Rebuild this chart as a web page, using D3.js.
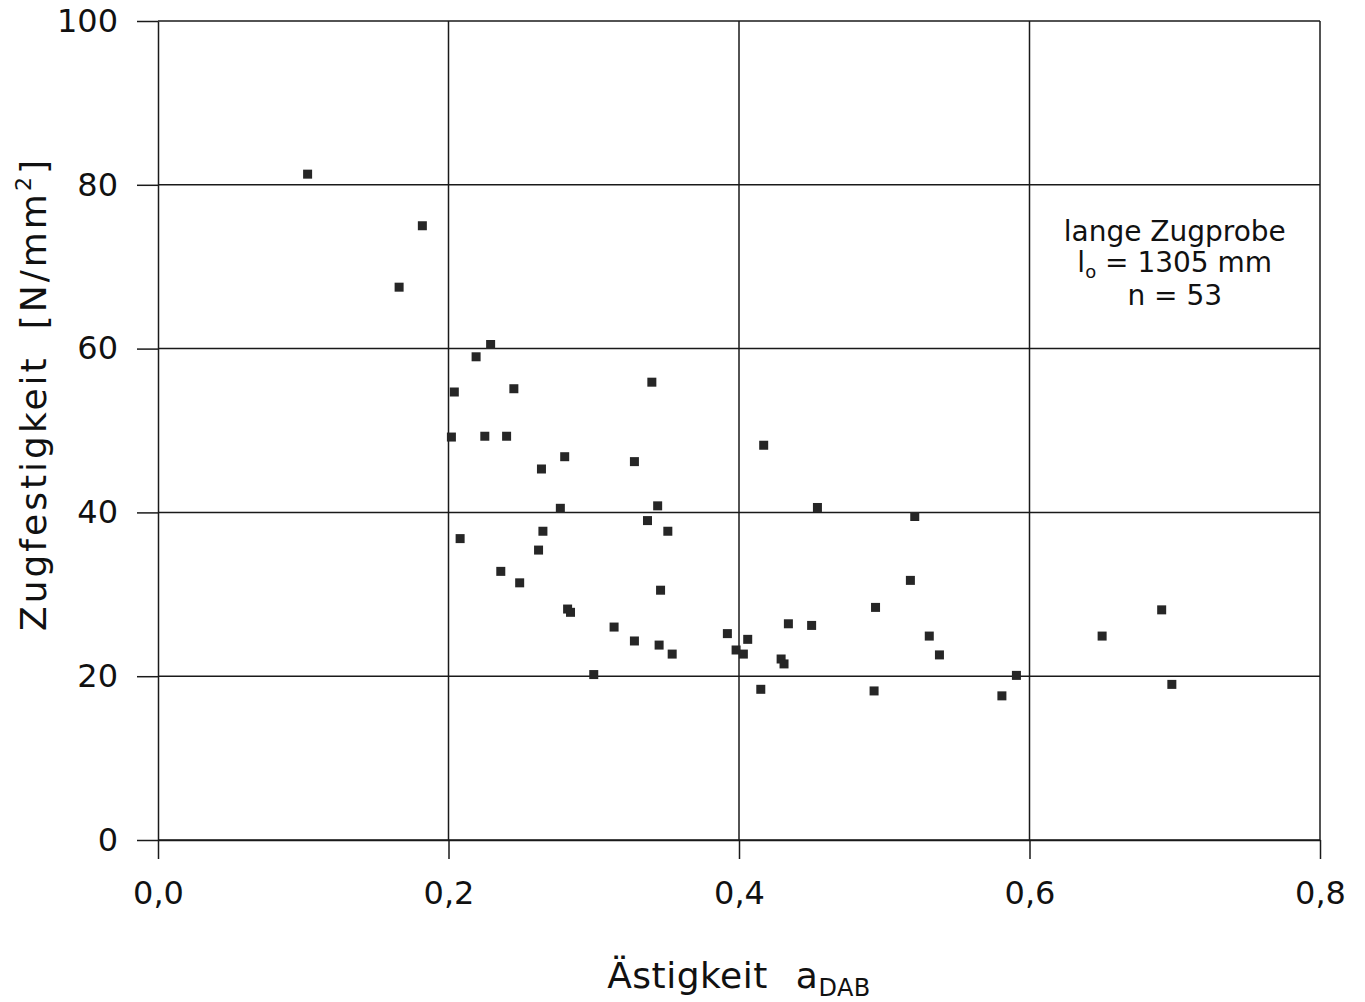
<!DOCTYPE html>
<html>
<head>
<meta charset="utf-8">
<script src="https://cdn.jsdelivr.net/npm/d3@7"></script>
<style>
  body { margin: 0; background: #fff; }
  svg text { font-family: "DejaVu Sans", sans-serif; fill: #111; }
</style>
</head>
<body>
<div id="chart"></div>
<script>
// Astigkeit a_DAB (x) vs Zugfestigkeit N/mm2 (y)
var astigkeit = [0.103, 0.166, 0.182, 0.229, 0.219, 0.204, 0.245, 0.340, 0.202, 0.225,
  0.240, 0.280, 0.264, 0.328, 0.277, 0.344, 0.337, 0.351, 0.265, 0.208,
  0.262, 0.236, 0.249, 0.346, 0.282, 0.284, 0.314, 0.328, 0.345, 0.354,
  0.392, 0.300, 0.417, 0.454, 0.494, 0.434, 0.450, 0.406, 0.398, 0.403,
  0.429, 0.431, 0.415, 0.493, 0.521, 0.518, 0.691, 0.531, 0.650, 0.538,
  0.591, 0.581, 0.698];
var zugfestigkeit = [81.3, 67.5, 75.0, 60.5, 59.0, 54.7, 55.1, 55.9, 49.2, 49.3,
  49.3, 46.8, 45.3, 46.2, 40.5, 40.8, 39.0, 37.7, 37.7, 36.8,
  35.4, 32.8, 31.4, 30.5, 28.2, 27.8, 26.0, 24.3, 23.8, 22.7,
  25.2, 20.2, 48.2, 40.6, 28.4, 26.4, 26.2, 24.5, 23.2, 22.7,
  22.1, 21.5, 18.4, 18.2, 39.5, 31.7, 28.1, 24.9, 24.9, 22.6,
  20.1, 17.6, 19.0];
var xTicks = [0, 0.2, 0.4, 0.6, 0.8];
var yTicks = [0, 20, 40, 60, 80, 100];
var noteLines = ["lange Zugprobe", "n = 53"];

var W = 1365, H = 1002;
var margin = {top: 21, right: 45, bottom: 162, left: 158};
var width = W - margin.left - margin.right,
    height = H - margin.top - margin.bottom;

var svg = d3.select("#chart").append("svg")
    .attr("width", W).attr("height", H);
var g = svg.append("g")
    .attr("transform", "translate(" + margin.left + "," + margin.top + ")");

var x = d3.scaleLinear().domain([0, 0.8]).range([0, width]);
var y = d3.scaleLinear().domain([0, 100]).range([height, 0]);

var fmt = function(d) { return d3.format(".1f")(d).replace(".", ","); };

// grid
g.selectAll("line.hgrid").data(yTicks).enter().append("line")
  .attr("class", "hgrid")
  .attr("x1", 0).attr("x2", width)
  .attr("y1", function(d) { return y(d); }).attr("y2", function(d) { return y(d); })
  .attr("stroke", "#1a1a1a").attr("stroke-width", 1.5);
g.selectAll("line.vgrid").data(xTicks.slice(1)).enter().append("line")
  .attr("class", "vgrid")
  .attr("x1", function(d) { return x(d); }).attr("x2", function(d) { return x(d); })
  .attr("y1", 0).attr("y2", height)
  .attr("stroke", "#1a1a1a").attr("stroke-width", 1.5);

// axes
var xAxis = g.append("g")
  .attr("transform", "translate(0," + height + ")")
  .call(d3.axisBottom(x).tickValues(xTicks).tickFormat(fmt).tickSizeInner(19).tickSizeOuter(0).tickPadding(22));
var yAxis = g.append("g")
  .call(d3.axisLeft(y).tickValues(yTicks).tickSizeInner(21).tickSizeOuter(0).tickPadding(19));
[xAxis, yAxis].forEach(function(a) {
  a.select(".domain").attr("stroke", "#1a1a1a").attr("stroke-width", 1.5);
  a.selectAll(".tick line").attr("stroke", "#1a1a1a").attr("stroke-width", 1.5);
  a.selectAll(".tick text").attr("font-size", 32).attr("font-family", "DejaVu Sans").attr("fill", "#111");
});

// points
g.selectAll("rect.pt").data(astigkeit).enter().append("rect")
  .attr("class", "pt")
  .attr("x", function(d) { return x(d) - 4.5; })
  .attr("y", function(d, i) { return y(zugfestigkeit[i]) - 4.5; })
  .attr("width", 9).attr("height", 9)
  .attr("fill", "#262626");

// annotation
var note = g.append("text").attr("text-anchor", "middle").attr("font-size", 28);
note.append("tspan").attr("x", x(0.70)).attr("y", 220).text(noteLines[0]);
var l2 = note.append("tspan").attr("x", x(0.70)).attr("y", 251);
l2.append("tspan").text("l");
l2.append("tspan").attr("font-size", 18).attr("dy", 6).text("o");
l2.append("tspan").attr("dy", -6).text("  =  1305 mm");
note.append("tspan").attr("x", x(0.70)).attr("y", 284).text("n  =  53");

// axis titles
var xt = svg.append("text")
  .attr("x", 739).attr("y", 988)
  .attr("text-anchor", "middle").attr("font-size", 36)
  .attr("letter-spacing", 0.5);
xt.append("tspan").text("Ästigkeit");
xt.append("tspan").attr("dx", 28).text("a");
xt.append("tspan").attr("font-size", 24).attr("dy", 8).text("DAB");

var yt = svg.append("text")
  .attr("transform", "translate(46,394) rotate(-90)")
  .attr("text-anchor", "middle").attr("font-size", 36)
  .attr("letter-spacing", 3);
yt.append("tspan").text("Zugfestigkeit");
yt.append("tspan").attr("dx", 26).text("[N/mm");
yt.append("tspan").attr("font-size", 22).attr("dy", -15).text("2");
yt.append("tspan").attr("dy", 15).text("]");
</script>
</body>
</html>
